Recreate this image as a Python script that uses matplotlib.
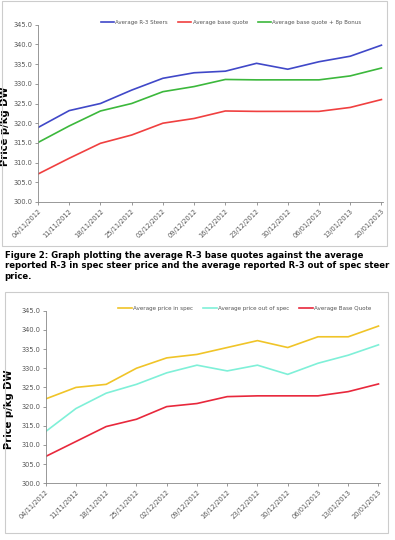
import matplotlib.pyplot as plt
from matplotlib.patches import Rectangle

# Weekly dates (x axis)
dates = ['04/11/2012', '11/11/2012', '18/11/2012', '25/11/2012', '02/12/2012', '09/12/2012',
         '16/12/2012', '23/12/2012', '30/12/2012', '06/01/2013', '13/01/2013', '20/01/2013']

# Top chart series
r3_steers = [318.9, 323.2, 325.0, 328.4, 331.4, 332.8, 333.2, 335.2, 333.7, 335.6, 337.0, 339.8]
base_quote = [307.1, 311.1, 314.9, 317.0, 320.0, 321.2, 323.1, 323.0, 323.0, 323.0, 324.0, 326.0]
base_bonus = [315.1, 319.3, 323.1, 325.0, 328.0, 329.3, 331.1, 331.0, 331.0, 331.0, 332.0, 334.0]

# Bottom chart series
in_spec = [322.0, 325.0, 325.8, 330.0, 332.7, 333.6, 335.4, 337.2, 335.4, 338.2, 338.2, 341.0]
out_spec = [313.5, 319.5, 323.5, 325.8, 328.8, 330.8, 329.3, 330.8, 328.4, 331.3, 333.4, 336.1]
base_quote2 = [307.0, 310.9, 314.8, 316.7, 320.0, 320.8, 322.6, 322.8, 322.8, 322.8, 323.9, 325.9]

caption = ("Figure 2: Graph plotting the average R-3 base quotes against the average\n"
           "reported R-3 in spec steer price and the average reported R-3 out of spec steer\n"
           "price.")

x = list(range(len(dates)))

fig = plt.figure(figsize=(3.95, 5.40), dpi=100)


def style_axes(ax, label_x):
    ax.set_xlim(0, 11.05)
    ax.set_ylim(300, 345)
    ax.set_yticks(range(300, 346, 5))
    ax.set_yticklabels(['%.1f' % v for v in range(300, 346, 5)], fontsize=4.8, color='#555555')
    ax.set_xticks(x)
    ax.set_xticklabels(dates, rotation=45, ha='right', rotation_mode='anchor',
                       fontsize=4.8, color='#555555')
    for s in ['top', 'right']:
        ax.spines[s].set_visible(False)
    for s in ['left', 'bottom']:
        ax.spines[s].set_color('#888888')
        ax.spines[s].set_linewidth(0.6)
    ax.tick_params(length=2.5, width=0.6, color='#888888', pad=1.5)
    ax.set_ylabel('Price p/kg DW', fontsize=7.2, fontweight='bold')
    ax.yaxis.set_label_coords(label_x, 0.43)


def add_legend(ax, anchor, size):
    ax.legend(loc='lower center', bbox_to_anchor=(anchor, 0.97), ncol=3, frameon=False,
              fontsize=size, handlelength=2.4, columnspacing=1.8,
              handletextpad=0.2, labelcolor='#555555')


# frames around the two charts
fig.patches.append(Rectangle((2 / 395, 1 - 246 / 540), 385 / 395, 245 / 540,
                             transform=fig.transFigure, fill=False, ec='#cccccc', lw=0.8))
fig.patches.append(Rectangle((5 / 395, 1 - 533 / 540), 383 / 395, 241 / 540,
                             transform=fig.transFigure, fill=False, ec='#cccccc', lw=0.8))

ax1 = fig.add_axes([38 / 395, 1 - 202 / 540, 345 / 395, 177.3 / 540])
ax1.plot(x, r3_steers, color='#4048c8', lw=1.2, label='Average R-3 Steers')
ax1.plot(x, base_quote, color='#f04040', lw=1.2, label='Average base quote')
ax1.plot(x, base_bonus, color='#3cb83c', lw=1.2, label='Average base quote + 8p Bonus')
style_axes(ax1, -0.08)
add_legend(ax1, 0.56, 4.0)

fig.text(0.012, 1 - 251 / 540, caption, fontsize=6.1, fontweight='bold', va='top',
         ha='left', linespacing=1.2)

ax2 = fig.add_axes([45.7 / 395, 1 - 483.3 / 540, 334.3 / 395, 172.6 / 540])
ax2.plot(x, in_spec, color='#f0c428', lw=1.2, label='Average price in spec')
ax2.plot(x, out_spec, color='#7ff0d8', lw=1.2, label='Average price out of spec')
ax2.plot(x, base_quote2, color='#e8283c', lw=1.2, label='Average Base Quote')
style_axes(ax2, -0.095)
add_legend(ax2, 0.595, 4.1)

fig.savefig('out.png', dpi=100)
